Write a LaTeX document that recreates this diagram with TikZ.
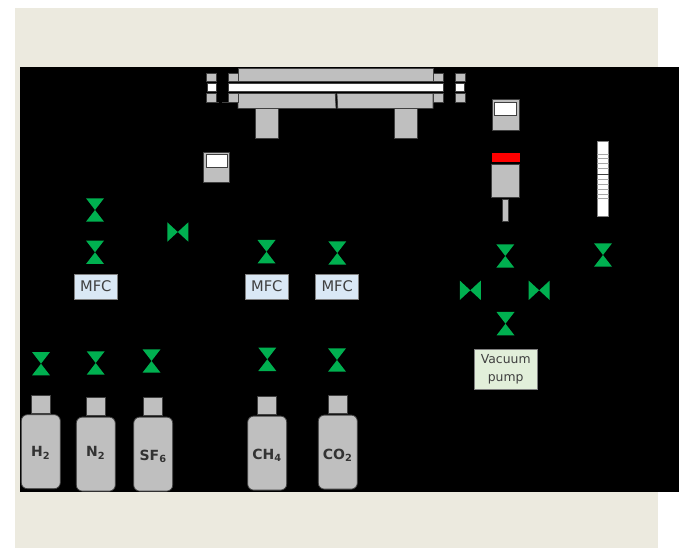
\documentclass[tikz,border=0pt]{standalone}
\usepackage{fontspec}
\setmainfont{DejaVu Sans}

\definecolor{paper}{HTML}{ECEADF}
\definecolor{steel}{HTML}{BFBFBF}
\definecolor{rim}{HTML}{404040}
\definecolor{valvegreen}{HTML}{00B050}
\definecolor{mfcblue}{HTML}{DAE8F5}
\definecolor{pumpgreen}{HTML}{E2EFDA}

\tikzset{
	part/.style={fill=steel, draw=rim, line width=0.6pt},
	glass/.style={fill=white, draw=rim, line width=0.6pt},
	mfcbox/.style={draw=gray, fill=mfcblue, line width=0.6pt, minimum width=32.25pt, minimum height=18.75pt, inner sep=0pt, text depth=1.5pt, font=\fontsize{11}{12}\selectfont, text=rim},
	pumpbox/.style={draw=gray, fill=pumpgreen, line width=0.6pt, minimum width=47pt, minimum height=30pt, inner sep=0pt, align=center, font=\fontsize{9.3}{13.5}\selectfont, text=rim},
	bottle/.style={fill=steel, draw=rim, line width=0.6pt, rounded corners=4.5pt, minimum width=29.25pt, minimum height=55.5pt, inner sep=0pt},
	gaslabel/.style={font=\bfseries\fontsize{10.5}{12}\selectfont, text=black!80, inner sep=0pt},
	valve/.pic={\fill[valvegreen] (-9,-11.7) -- (9,-11.7) -- (-9,11.7) -- (9,11.7) -- cycle;},
	sidevalve/.pic={\fill[valvegreen] (-10.5,-9.7) -- (10.5,9.7) -- (10.5,-9.7) -- (-10.5,9.7) -- cycle;},
}

\begin{document}
\begin{tikzpicture}[x=0.75pt, y=-0.75pt]
	\useasboundingbox (0, 0) rectangle (679, 549);

	\fill[paper] (15, 8) rectangle (658, 548);
	\fill[black] (20, 67) rectangle (679, 491.5);

	% chamber
	\draw[part] (238, 68) rectangle (433, 81);
	\draw[part] (238, 93.5) -- (335.3, 93.5) -- (336, 108.5) -- (238, 108.5) -- cycle;
	\draw[part] (337, 93.5) -- (433, 93.5) -- (433, 108.5) -- (337.7, 108.5) -- cycle;
	\draw[glass] (228, 83) rectangle (443, 91.5);
	\foreach \x/\w in {206.5/216, 228/238, 433/443, 455/465} {
		\draw[part] (\x, 73.5) rectangle (\w, 81);
		\draw[part] (\x, 93.5) rectangle (\w, 102.5);
	}
	\draw[glass] (207, 83) rectangle (216, 91.5);
	\draw[glass] (455, 83) rectangle (464, 91.5);
	\draw[rim, line width=0.6pt] (216, 102.5) -- (219, 102.5) (222, 102.5) -- (228, 102.5);
	\draw[part] (255, 108.5) rectangle (278, 138.5);
	\draw[part] (394, 108.5) rectangle (417, 138.5);

	% gauges
	\draw[part] (203, 152) rectangle (229.5, 182);
	\draw[glass] (206, 154.5) rectangle (227, 167.5);
	\draw[part] (492, 99.7) rectangle (519, 130);
	\draw[glass] (494.7, 102) rectangle (516.3, 115.3);

	% turbo pump
	\fill[red] (491.7, 153) rectangle (519.7, 162);
	\draw[part] (491.7, 164) rectangle (519.7, 197.3);
	\draw[part] (502.7, 199.3) rectangle (508.7, 221.7);

	% ladder
	\draw[fill=white, draw=gray, line width=0.6pt] (597, 141.7) rectangle (608.7, 216);
	\foreach \y in {154.3, 158, 163, 168, 179, 184, 189, 194, 198}
		\draw[gray!70, line width=0.5pt] (597, \y) -- (608.7, \y);
	\draw[rim, line width=0.6pt] (597, 174.3) -- (608.7, 174.3);

	% valves
	\foreach \x/\y in {95/210, 95/252.3, 266.5/251.7, 337.3/253, 505.3/256, 603/255, 505.5/323.7, 41/363.7, 95.7/363, 151.5/361, 267.3/359.3, 337/360}
		\pic at (\x, \y) {valve};
	\pic at (177.8, 232) {sidevalve};
	\pic at (470.3, 290.3) {sidevalve};
	\pic at (539.2, 290.3) {sidevalve};

	% controllers
	\node[mfcbox] (mfc1) at (95.8, 286.8) {MFC};
	\node[mfcbox] (mfc2) at (266.8, 286.8) {MFC};
	\node[mfcbox] (mfc3) at (337.2, 286.8) {MFC};
	\node[pumpbox] (pump) at (505.7, 369.3) {Vacuum\\pump};

	% bottles
	\foreach \name/\x/\y/\gas/\ly in {h/40.8/414.3/H\textsubscript{2}/453, n/95.8/416.7/N\textsubscript{2}/453, sf/153.2/416.7/SF\textsubscript{6}/456.5, ch/267.2/415.7/CH\textsubscript{4}/455, co/337.8/414.7/CO\textsubscript{2}/455} {
		\draw[part] (\x-9.5, \y-19) rectangle (\x+9.5, \y-1);
		\node[bottle, anchor=north] (\name) at (\x, \y) {};
		\node[gaslabel] (\name label) at (\x, \ly) {\gas};
	}
\end{tikzpicture}
\end{document}
